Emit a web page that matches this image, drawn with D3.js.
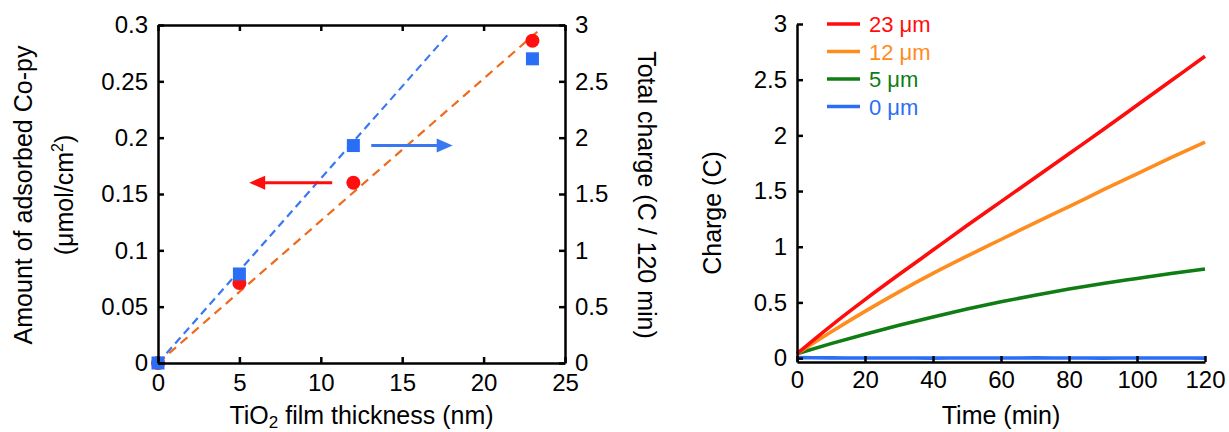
<!DOCTYPE html>
<html>
<head>
<meta charset="utf-8">
<script src="https://cdn.jsdelivr.net/npm/d3@7"></script>
<style>
  html, body { margin: 0; padding: 0; background: #fff; }
  svg { display: block; font-family: "Liberation Sans", Arial, sans-serif; }
  .axis path, .axis line { stroke: #000; stroke-width: 2.5; }
  .axis text { font-size: 24px; fill: #000; font-family: "Liberation Sans", Arial, sans-serif; }
  .title { font-size: 25px; fill: #000; }
</style>
</head>
<body>
<svg id="chart" width="1229" height="432"></svg>
<script>
// ---------- Left panel: adsorption amount and total charge vs film thickness ----------
const thickness = [0, 5, 12, 23];                       // nm
const adsorbedAmount = [0, 0.071, 0.16, 0.286];         // µmol/cm² (left axis)
const totalCharge = [0, 0.79, 1.93, 2.70];              // C / 120 min (right axis)
const amountFit = [[0, 0], [23.3, 0.294]];              // linear fit, left axis
const chargeFit = [[0, 0], [17.9, 2.93]];               // linear fit, right axis
const leftXTicks = [0, 5, 10, 15, 20, 25];
const leftYTicks = [0, 0.05, 0.1, 0.15, 0.2, 0.25, 0.3];
const leftYLabels = ["0", "0.05", "0.1", "0.15", "0.2", "0.25", "0.3"];
const rightYTicks = [0, 0.5, 1, 1.5, 2, 2.5, 3];
const rightYLabels = ["0", "0.5", "1", "1.5", "2", "2.5", "3"];
// axis-pointing arrows: [from thickness, to thickness, level on own axis]
const amountArrow = { from: 10.7, to: 5.6, level: 0.16 };
const chargeArrow = { from: 13.1, to: 18.1, level: 1.93 };

// ---------- Right panel: charge vs time ----------
const time = [0, 10, 20, 30, 40, 50, 60, 70, 80, 90, 100, 110, 120];
const charge23 = [0.04, 0.29, 0.525, 0.75, 0.97, 1.19, 1.405, 1.62, 1.835, 2.05, 2.27, 2.49, 2.71];
const charge12 = [0.04, 0.235, 0.42, 0.595, 0.76, 0.915, 1.065, 1.215, 1.36, 1.51, 1.655, 1.80, 1.94];
const charge5  = [0.04, 0.13, 0.215, 0.295, 0.37, 0.44, 0.505, 0.565, 0.62, 0.67, 0.715, 0.76, 0.80];
const charge0  = [0.004, 0.002, 0.001, 0.001, 0.000, 0.001, 0.001, 0.002, 0.001, 0.000, 0.001, 0.001, 0.000];
const seriesNames = ["23 μm", "12 μm", "5 μm", "0 μm"];
const seriesColors = ["#ff0d0d", "#ff8c1f", "#0f7d14", "#2a6ef5"];
const timeTicks = [0, 20, 40, 60, 80, 100, 120];
const chargeTicks = [0, 0.5, 1, 1.5, 2, 2.5, 3];
const chargeLabels = ["0", "0.5", "1", "1.5", "2", "2.5", "3"];

const svg = d3.select("#chart");

// ===== Left panel =====
const L = { left: 158, right: 565, top: 25, bottom: 363 };
const xL = d3.scaleLinear().domain([0, 25]).range([L.left, L.right]);
const yAmt = d3.scaleLinear().domain([0, 0.3]).range([L.bottom, L.top]);
const yChg = d3.scaleLinear().domain([0, 3]).range([L.bottom, L.top]);

const gL = svg.append("g");

// fit lines
const fitLine = (ys) => d3.line().x(d => xL(d[0])).y(d => ys(d[1]));
gL.append("path").datum(chargeFit)
  .attr("d", fitLine(yChg))
  .attr("fill", "none").attr("stroke", "#3a78f2").attr("stroke-width", 2.2)
  .attr("stroke-dasharray", "8,5");
gL.append("path").datum(amountFit)
  .attr("d", fitLine(yAmt))
  .attr("fill", "none").attr("stroke", "#ee6a1c").attr("stroke-width", 2.2)
  .attr("stroke-dasharray", "9,6");

// data markers
gL.selectAll("circle.amt").data(thickness.map((t, i) => [t, adsorbedAmount[i]]))
  .join("circle").attr("class", "amt")
  .attr("cx", d => xL(d[0])).attr("cy", d => yAmt(d[1])).attr("r", 7)
  .attr("fill", "#ff1010");
const sq = 13;
gL.selectAll("rect.chg").data(thickness.map((t, i) => [t, totalCharge[i]]))
  .join("rect").attr("class", "chg")
  .attr("x", d => xL(d[0]) - sq / 2).attr("y", d => yChg(d[1]) - sq / 2)
  .attr("width", sq).attr("height", sq)
  .attr("fill", "#2a6ef5");

// arrows
function arrow(a, ys, color) {
  const x1 = xL(a.from), x2 = xL(a.to), y = ys(a.level);
  const dir = Math.sign(x2 - x1), head = 16, half = 7;
  gL.append("line")
    .attr("x1", x1).attr("y1", y).attr("x2", x2 - dir * head + dir).attr("y2", y)
    .attr("stroke", color).attr("stroke-width", 3);
  gL.append("path")
    .attr("d", `M${x2},${y} L${x2 - dir * head},${y - half} L${x2 - dir * head},${y + half} Z`)
    .attr("fill", color);
}
arrow(amountArrow, yAmt, "#ff0d0d");
arrow(chargeArrow, yChg, "#3a78f2");

// frame axes with inward ticks
gL.append("g").attr("class", "axis")
  .attr("transform", `translate(${L.left},0)`)
  .call(d3.axisLeft(yAmt).tickValues(leftYTicks).tickFormat((d, i) => leftYLabels[i])
    .tickSizeInner(-6).tickSizeOuter(0).tickPadding(10));
gL.append("g").attr("class", "axis")
  .attr("transform", `translate(${L.right},0)`)
  .call(d3.axisRight(yChg).tickValues(rightYTicks).tickFormat((d, i) => rightYLabels[i])
    .tickSizeInner(-6).tickSizeOuter(0).tickPadding(10));
gL.append("g").attr("class", "axis")
  .attr("transform", `translate(0,${L.bottom})`)
  .call(d3.axisBottom(xL).tickValues(leftXTicks).tickFormat(d3.format("d"))
    .tickSizeInner(-6).tickSizeOuter(0).tickPadding(11));
gL.append("g").attr("class", "axis")
  .attr("transform", `translate(0,${L.top})`)
  .call(d3.axisTop(xL).tickValues(leftXTicks).tickFormat("")
    .tickSizeInner(-6).tickSizeOuter(0));

// titles
const xt = gL.append("text").attr("class", "title")
  .attr("x", (L.left + L.right) / 2).attr("y", 424).attr("text-anchor", "middle");
xt.append("tspan").text("TiO");
xt.append("tspan").text("2").attr("font-size", "17px").attr("dy", 4);
xt.append("tspan").text(" film thickness (nm)").attr("dy", -4);

gL.append("text").attr("class", "title")
  .attr("transform", "translate(32,195) rotate(-90)")
  .attr("text-anchor", "middle")
  .text("Amount of adsorbed Co-py");
const yt2 = gL.append("text").attr("class", "title")
  .attr("transform", "translate(73,195) rotate(-90)")
  .attr("text-anchor", "middle");
yt2.append("tspan").text("(μmol/cm");
yt2.append("tspan").text("2").attr("font-size", "16px").attr("dy", -10);
yt2.append("tspan").text(")").attr("dy", 10);

gL.append("text").attr("class", "title")
  .attr("transform", "translate(638,195) rotate(90)")
  .attr("text-anchor", "middle")
  .text("Total charge (C / 120 min)");

// ===== Right panel =====
const R = { left: 797, right: 1205, top: 24, bottom: 362 };
const xR = d3.scaleLinear().domain([0, 120]).range([R.left, R.right]);
const yR = d3.scaleLinear().domain([-0.035, 3]).range([R.bottom, R.top]);

const gR = svg.append("g");
const allSeries = [charge23, charge12, charge5, charge0];
const line = d3.line().x((d, i) => xR(time[i])).y(d => yR(d)).curve(d3.curveMonotoneX);

// draw lowest series first so the steeper curves sit on top
[3, 2, 1, 0].forEach(k => {
  gR.append("path").datum(allSeries[k])
    .attr("d", line)
    .attr("fill", "none").attr("stroke", seriesColors[k]).attr("stroke-width", 3.6);
});

gR.append("g").attr("class", "axis")
  .attr("transform", `translate(${R.left},0)`)
  .call(d3.axisLeft(yR).tickValues(chargeTicks).tickFormat((d, i) => chargeLabels[i])
    .tickSizeInner(-6).tickSizeOuter(0).tickPadding(10));
gR.append("g").attr("class", "axis")
  .attr("transform", `translate(0,${R.bottom})`)
  .call(d3.axisBottom(xR).tickValues(timeTicks).tickFormat(d3.format("d"))
    .tickSizeInner(-6).tickSizeOuter(0).tickPadding(9));

gR.append("text").attr("class", "title")
  .attr("x", (R.left + R.right) / 2).attr("y", 424).attr("text-anchor", "middle")
  .text("Time (min)");
gR.append("text").attr("class", "title")
  .attr("transform", "translate(721,213) rotate(-90)")
  .attr("text-anchor", "middle")
  .text("Charge (C)");

// legend
const leg = gR.append("g").attr("transform", "translate(827,24)");
seriesNames.forEach((name, i) => {
  const row = leg.append("g").attr("transform", `translate(0,${i * 27.5})`);
  row.append("line").attr("x1", 0).attr("x2", 33).attr("y1", 0).attr("y2", 0)
    .attr("stroke", seriesColors[i]).attr("stroke-width", 3.6);
  row.append("text").attr("x", 42).attr("y", 8)
    .attr("font-size", "22px").attr("fill", seriesColors[i]).text(name);
});
</script>
</body>
</html>
